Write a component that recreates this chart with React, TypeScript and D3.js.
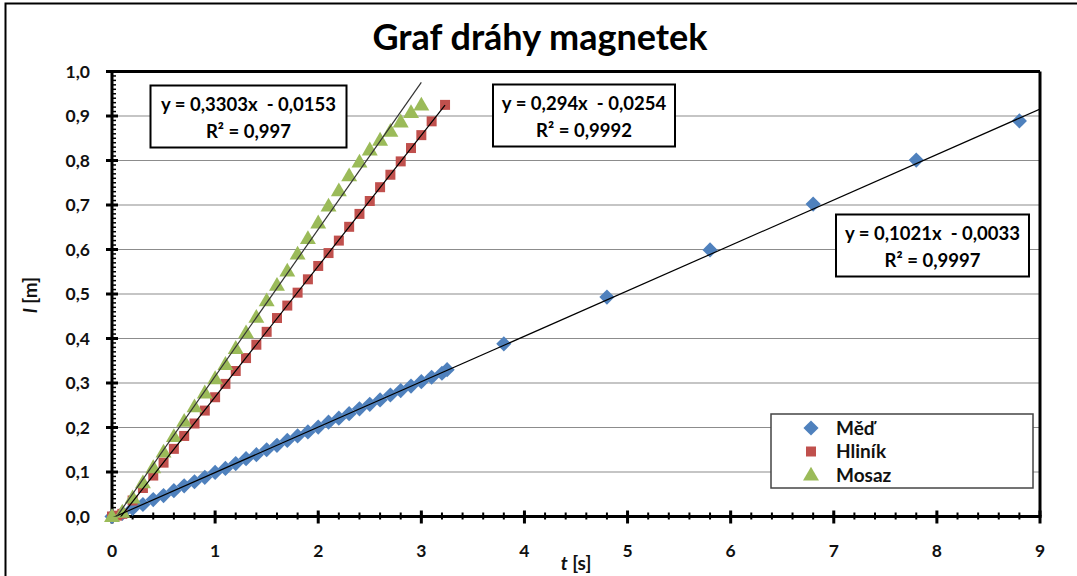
import React from 'react';
import * as d3 from 'd3';

// Měď (copper) - blue diamonds
const medT = [0, 0.1, 0.2, 0.3, 0.4, 0.5, 0.6, 0.7, 0.8, 0.9, 1.0, 1.1, 1.2, 1.3, 1.4, 1.5, 1.6, 1.7, 1.8, 1.9,
  2.0, 2.1, 2.2, 2.3, 2.4, 2.5, 2.6, 2.7, 2.8, 2.9, 3.0, 3.1, 3.2, 3.25, 3.8, 4.8, 5.8, 6.8, 7.8, 8.8];
const medL = [0, 0.007, 0.018, 0.027, 0.038, 0.047, 0.058, 0.069, 0.078, 0.088, 0.099, 0.108, 0.119, 0.130, 0.139,
  0.150, 0.160, 0.171, 0.181, 0.190, 0.201, 0.212, 0.221, 0.231, 0.242, 0.252, 0.262, 0.273, 0.283, 0.293,
  0.303, 0.313, 0.322, 0.330, 0.388, 0.493, 0.599, 0.702, 0.801, 0.889];

// Hliník (aluminium) - red squares
const hlinikT = [0, 0.05, 0.1, 0.2, 0.3, 0.4, 0.5, 0.6, 0.7, 0.8, 0.9, 1.0, 1.1, 1.2, 1.3, 1.4, 1.5, 1.6, 1.7, 1.8,
  1.9, 2.0, 2.1, 2.2, 2.3, 2.4, 2.5, 2.6, 2.7, 2.8, 2.9, 3.0, 3.1, 3.23];
const hlinikL = [0, 0.002, 0.006, 0.036, 0.064, 0.092, 0.121, 0.152, 0.181, 0.209, 0.238, 0.268, 0.298, 0.327,
  0.356, 0.386, 0.415, 0.446, 0.474, 0.503, 0.533, 0.563, 0.592, 0.620, 0.651, 0.680, 0.709, 0.740, 0.768,
  0.798, 0.828, 0.857, 0.888, 0.925];

// Mosaz (brass) - green triangles
const mosazT = [0, 0.1, 0.2, 0.3, 0.4, 0.5, 0.6, 0.7, 0.8, 0.9, 1.0, 1.1, 1.2, 1.3, 1.4, 1.5, 1.6, 1.7, 1.8, 1.9,
  2.0, 2.1, 2.2, 2.3, 2.4, 2.5, 2.6, 2.7, 2.8, 2.9, 3.0];
const mosazL = [0, 0.01, 0.042, 0.076, 0.11, 0.145, 0.18, 0.214, 0.247, 0.278, 0.31, 0.342, 0.378, 0.413, 0.448,
  0.485, 0.52, 0.552, 0.59, 0.625, 0.66, 0.698, 0.732, 0.766, 0.797, 0.824, 0.846, 0.866, 0.887, 0.908, 0.925];

// trendline coefficients [slope, intercept, tStart, tEnd]
const medFit = [0.1021, -0.0033, 0, 9];
const hlinikFit = [0.294, -0.0254, 0, 3.23];
const mosazFit = [0.3303, -0.0153, 0, 3.0];

const eqLabels = [
  { line1: 'y = 0,3303x  - 0,0153', line2: 'R² = 0,997' },
  { line1: 'y = 0,294x  - 0,0254', line2: 'R² = 0,9992' },
  { line1: 'y = 0,1021x  - 0,0033', line2: 'R² = 0,9997' },
];
const seriesNames = ['Měď', 'Hliník', 'Mosaz'];
const xTicks = [0, 1, 2, 3, 4, 5, 6, 7, 8, 9];
const yTicks = [0, 0.1, 0.2, 0.3, 0.4, 0.5, 0.6, 0.7, 0.8, 0.9, 1.0];

const FONT = 'Lato, "Open Sans", sans-serif';
const BLUE = '#4F81BD';
const RED = '#C0504D';
const GREEN = '#9BBB59';

const x = d3.scaleLinear().domain([0, 9]).range([112, 1040]);
const y = d3.scaleLinear().domain([0, 1]).range([516.5, 71.5]);

const diamond = d3.symbol().type(d3.symbolSquare).size(115)() as string;
const square = d3.symbol().type(d3.symbolSquare).size(100)() as string;
const triangle = d3.symbol().type(d3.symbolTriangle).size(110)() as string;

const fmt = (v: number) => v.toFixed(1).replace('.', ',');

function Marker({ kind, cx, cy }: { kind: number; cx: number; cy: number }) {
  if (kind === 0) return <path d={diamond} transform={`translate(${cx},${cy}) rotate(45)`} fill={BLUE} />;
  if (kind === 1) return <path d={square} transform={`translate(${cx},${cy})`} fill={RED} />;
  return <path d={triangle} transform={`translate(${cx},${cy + 1})`} fill={GREEN} />;
}

function Trend({ fit, color }: { fit: number[]; color: string }) {
  const [a, b, t0, t1] = fit;
  const line = d3.line<number>().x(t => x(t)).y(t => y(a * t + b));
  return <path d={line([t0, t1]) as string} stroke={color} strokeWidth={1.2} fill="none" clipPath="url(#plotClip)" />;
}

function EqBox({ cx, top, w, lab }: { cx: number; top: number; w: number; lab: { line1: string; line2: string } }) {
  return (
    <g>
      <rect x={cx - w / 2} y={top} width={w} height={62} fill="#fff" stroke="#000" strokeWidth={2} />
      <text x={cx} y={top + 25} textAnchor="middle" fontSize={18.5} fontWeight="bold" style={{ whiteSpace: 'pre' }}>{lab.line1}</text>
      <text x={cx} y={top + 52} textAnchor="middle" fontSize={18.5} fontWeight="bold">{lab.line2}</text>
    </g>
  );
}

export default function App() {
  const minorY = d3.range(0, 101).map(i => i / 100);
  const minorX = d3.range(0, 46).map(i => i * 0.2);
  const series = [
    { t: medT, l: medL },
    { t: hlinikT, l: hlinikL },
    { t: mosazT, l: mosazL },
  ];
  return (
    <div style={{ position: 'fixed', left: 0, top: 0 }}>
      <svg width={1077} height={576} fontFamily={FONT} style={{ display: 'block', background: '#fff' }}>
        <defs>
          <clipPath id="plotClip">
            <rect x={x(0)} y={y(1)} width={x(9) - x(0)} height={y(0) - y(1)} />
          </clipPath>
        </defs>
        <rect x={5.5} y={3.5} width={1080} height={580} fill="#fff" stroke="#000" strokeWidth={2} />
        <text x={540} y={50} textAnchor="middle" fontSize={36} fontWeight="bold" fill="#000">Graf dráhy magnetek</text>

        {/* gridlines */}
        {yTicks.slice(1, -1).map(v => (
          <line key={v} x1={x(0)} x2={x(9)} y1={y(v)} y2={y(v)} stroke="#8c8c8c" strokeWidth={1.2} />
        ))}

        {/* plot frame */}
        <line x1={x(0)} x2={x(9)} y1={y(1)} y2={y(1)} stroke="#000" strokeWidth={3} />
        <line x1={x(9)} x2={x(9)} y1={y(1)} y2={y(0)} stroke="#000" strokeWidth={3} />

        {/* y axis */}
        <line x1={x(0)} x2={x(0)} y1={y(1) - 1.5} y2={y(0) + 1.5} stroke="#000" strokeWidth={3} />
        {minorY.map(v => (
          <line key={'my' + v} x1={x(0)} x2={x(0) + 4} y1={y(v)} y2={y(v)} stroke="#000" strokeWidth={1.5} />
        ))}
        {yTicks.map(v => (
          <g key={'y' + v}>
            <line x1={x(0) - 6} x2={x(0) + 6} y1={y(v)} y2={y(v)} stroke="#000" strokeWidth={3} />
            <text x={90} y={y(v) + 6} textAnchor="end" fontSize={17.5} fontWeight="bold" fill="#111">{fmt(v)}</text>
          </g>
        ))}

        {/* x axis */}
        <line x1={x(0) - 1.5} x2={x(9) + 1.5} y1={y(0)} y2={y(0)} stroke="#000" strokeWidth={3} />
        {minorX.map(v => (
          <line key={'mx' + v} x1={x(v)} x2={x(v)} y1={y(0) - 4} y2={y(0) + 3} stroke="#000" strokeWidth={2} />
        ))}
        {xTicks.map(v => (
          <g key={'x' + v}>
            <line x1={x(v)} x2={x(v)} y1={y(0) - 6} y2={y(0) + 7} stroke="#000" strokeWidth={3} />
            <text x={x(v)} y={557} textAnchor="middle" fontSize={17.5} fontWeight="bold" fill="#111">{v}</text>
          </g>
        ))}

        {/* axis titles */}
        <text x={576} y={570} textAnchor="middle" fontSize={19} fontWeight="bold" fill="#111">
          <tspan fontStyle="italic">t</tspan> [s]
        </text>
        <text transform="translate(37,295) rotate(-90)" textAnchor="middle" fontSize={19} fontWeight="bold" fill="#111">
          <tspan fontStyle="italic">l</tspan> [m]
        </text>

        {/* data */}
        {series.map((s, k) => (
          <g key={'s' + k}>
            {s.t.map((t, i) => <Marker key={i} kind={k} cx={x(t)} cy={y(s.l[i])} />)}
          </g>
        ))}

        {/* trendlines */}
        <Trend fit={medFit} color="#000" />
        <Trend fit={hlinikFit} color="#000" />
        <Trend fit={mosazFit} color="#333" />

        {/* equation labels */}
        <EqBox cx={248.5} top={85.5} w={196} lab={eqLabels[0]} />
        <EqBox cx={584} top={84.5} w={182} lab={eqLabels[1]} />
        <EqBox cx={932.5} top={214.5} w={193} lab={eqLabels[2]} />

        {/* legend */}
        <rect x={771} y={414} width={262} height={74} fill="#fff" stroke="#444" strokeWidth={1.5} />
        {seriesNames.map((n, k) => (
          <g key={n}>
            <Marker kind={k} cx={811} cy={428 + k * 23.5} />
            <text x={836} y={434.5 + k * 23.5} fontSize={19} fontWeight="bold" fill="#111">{n}</text>
          </g>
        ))}
      </svg>
    </div>
  );
}
